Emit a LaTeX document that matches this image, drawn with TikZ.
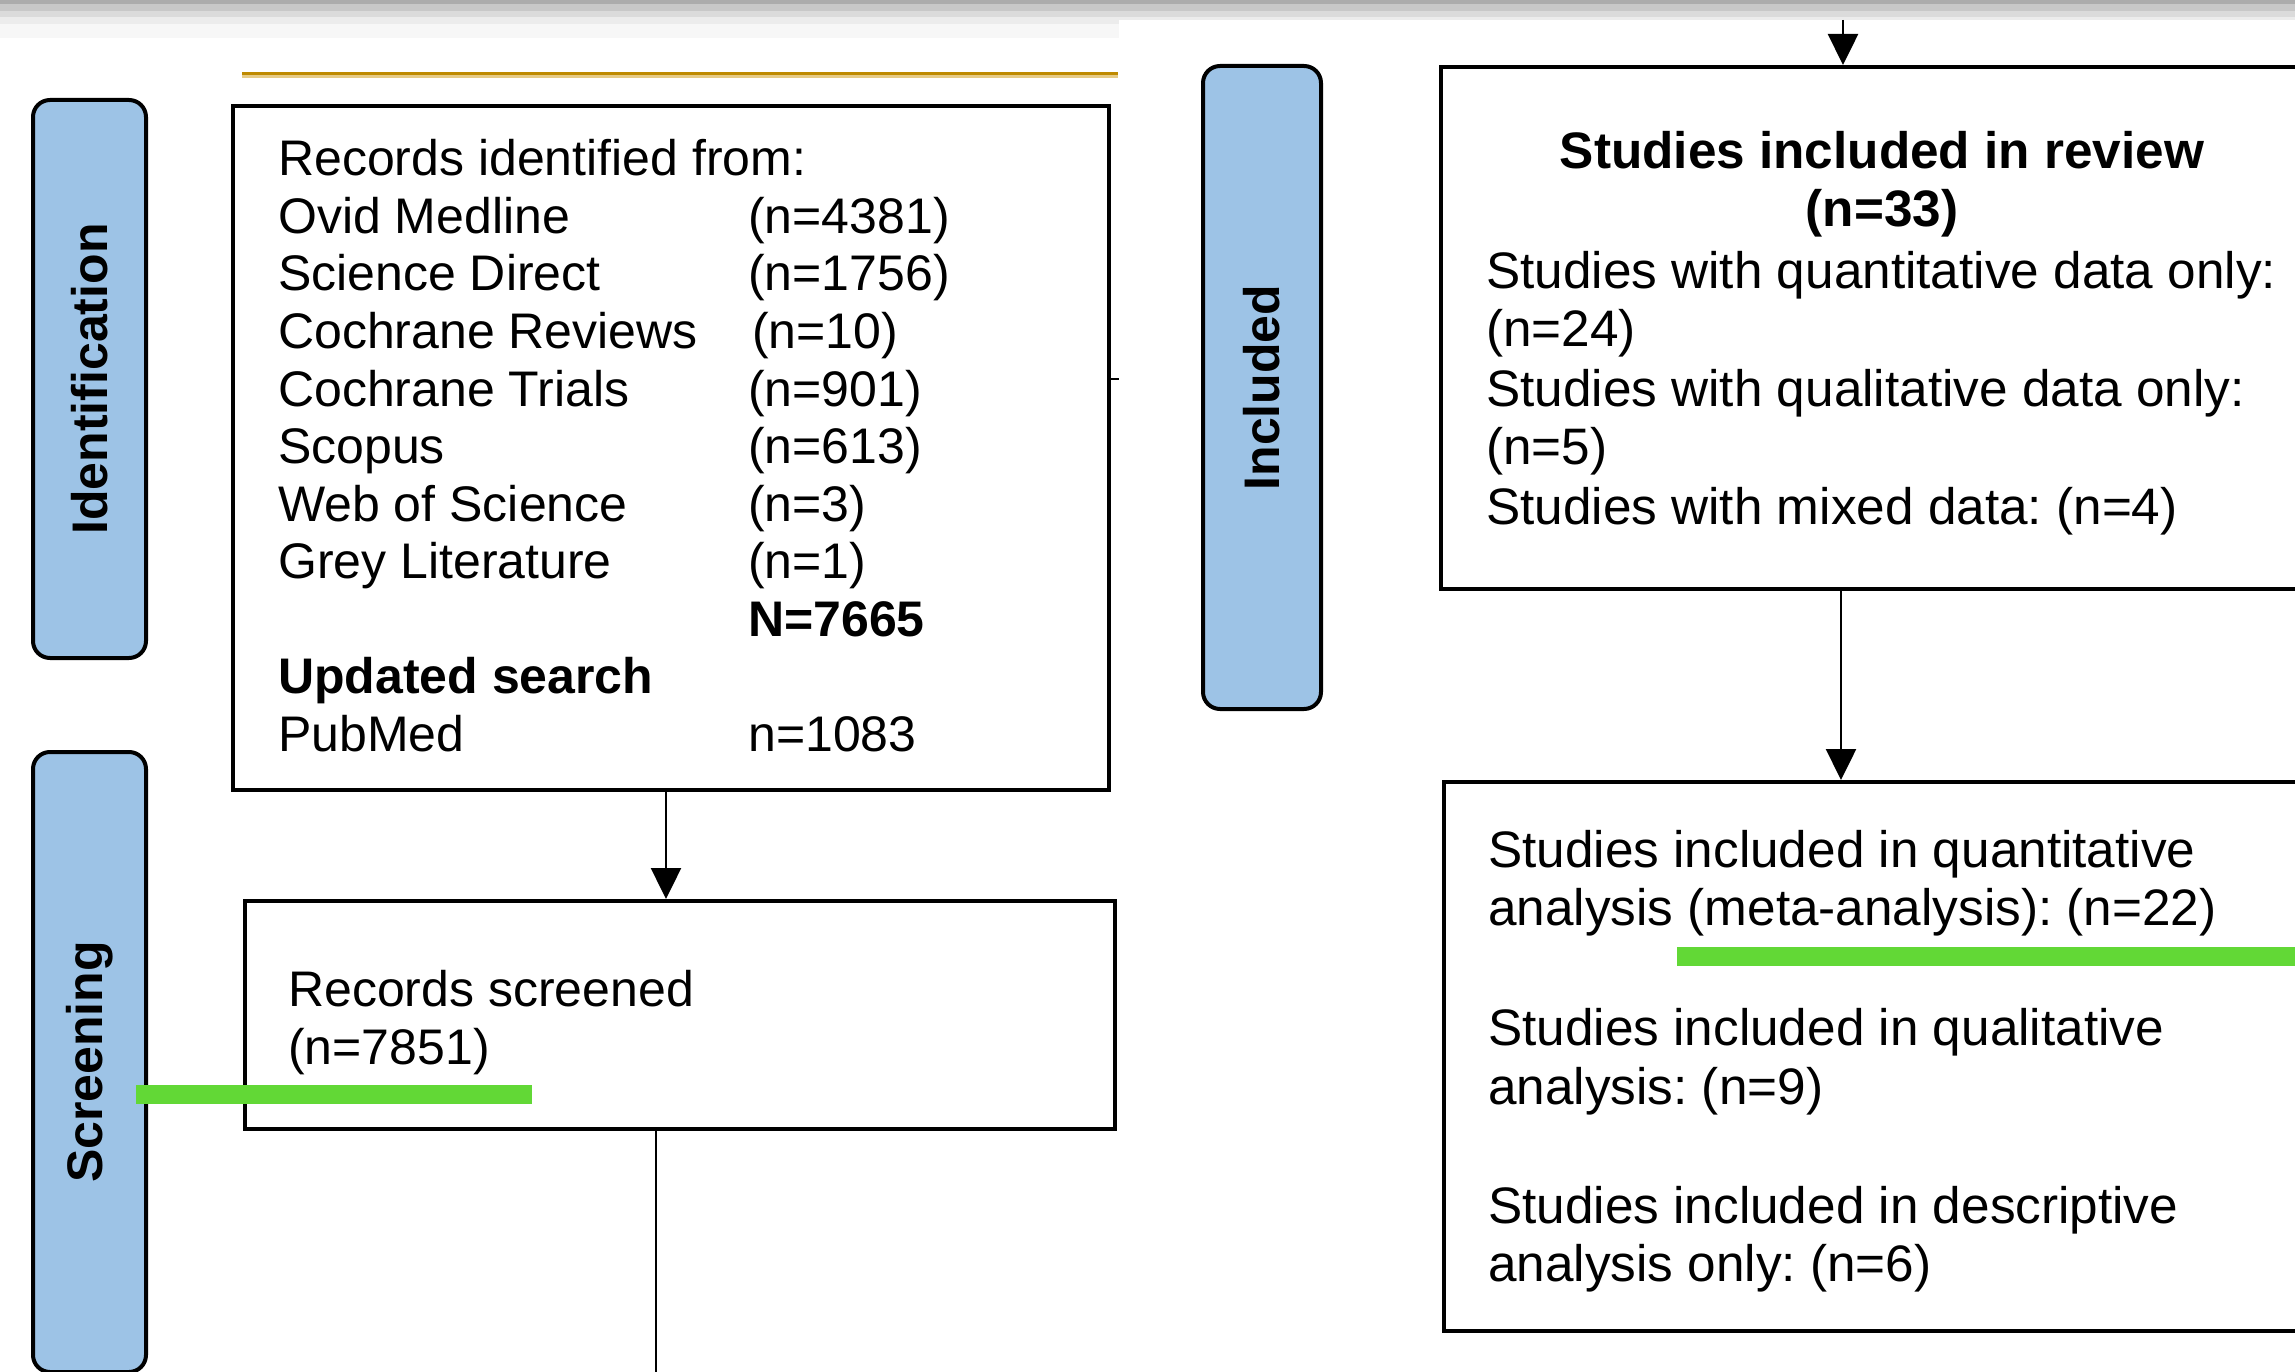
\documentclass[tikz,border=0pt]{standalone}
\usepackage{fontspec}
\setmainfont{Liberation Sans}
\frenchspacing
\usetikzlibrary{arrows.meta, positioning}

\definecolor{phaseblue}{HTML}{9DC3E6}
\definecolor{markgreen}{HTML}{62D836}
\definecolor{rulegold}{HTML}{BF8A00}
\definecolor{ruleshade}{HTML}{E6CB86}

\tikzset{
  phase/.style={draw, line width=4pt, fill=phaseblue, rounded corners=17pt,
    minimum width=113pt, anchor=north west, inner sep=0pt},
  phaselabel/.style={rotate=90, inner sep=0pt, font=\fontsize{50}{58}\selectfont\bfseries},
  box/.style={draw, line width=4pt, anchor=north west, inner sep=0pt},
  ltxt/.style={anchor=west, inner sep=0pt, text height=36pt, text depth=0pt,
    font=\fontsize{50}{57.5}\selectfont},
  rtxt/.style={ltxt, font=\fontsize{51.3}{59.3}\selectfont},
  link/.style={line width=2.5pt},
  arr/.style={link, -{Triangle[width=30pt,length=31pt]}},
  hilite/.style={markgreen, line width=19pt},
}

\begin{document}
\begin{tikzpicture}[x=1pt, y=-1pt]
  \useasboundingbox (0,0) rectangle (2295,1372);
  \clip (0,0) rectangle (2295,1372);

  % grey strip on top
  \fill[gray!65] (0,0) rectangle (2295,4);
  \fill[gray!43] (0,4) rectangle (2295,11);
  \fill[gray!28] (0,11) rectangle (2295,17);
  \fill[gray!15] (0,17) rectangle (2295,20);
  \fill[gray!15] (0,20) rectangle (1119,24);
  \fill[gray!6] (0,24) rectangle (1119,38);
  \fill[ruleshade] (242,75) rectangle (1118,78);
  \fill[rulegold] (242,72) rectangle (1118,75);

  % phases
  \node[phase, minimum height=558pt] (ident) at (31,98) {};
  \node[phase, minimum height=620pt] (screen) at (31,750) {};
  \node[phase, minimum width=118pt, minimum height=643pt] (incl) at (1201,64) {};
  \node[phaselabel] (identlbl) at (ident.center) {Identification};
  \node[phaselabel] (screenlbl) at (screen.center) {Screening};
  \node[phaselabel] (incllbl) at (incl.center) {Included};

  % boxes
  \node[box, minimum width=876pt, minimum height=684pt] (records) at (231,104) {};
  \node[box, minimum width=870pt, minimum height=228pt] (screened) at (243,899) {};
  \node[box, minimum width=900pt, minimum height=522pt] (studies) at (1439,65) {};
  \node[box, minimum width=900pt, minimum height=549pt] (analysis) at (1442,780) {};

  % identification text
  \node[ltxt] (recttl) at (278,158) {Records identified from:};
  \foreach \src/\cnt [count=\i] in {Ovid Medline/(n=4381), Science Direct/(n=1756),
      Cochrane Reviews/\hspace{4pt}(n=10), Cochrane Trials/(n=901), Scopus/(n=613),
      Web of Science/(n=3), Grey Literature/(n=1)}
  {
    \node[ltxt] (src\i) at (278,158+57.5*\i) {\src};
    \node[ltxt] (cnt\i) at (748,158+57.5*\i) {\cnt};
  }
  \node[ltxt, font=\fontsize{50}{57.5}\selectfont\bfseries] (total) at (748,618) {N=7665};
  \node[ltxt, font=\fontsize{50}{57.5}\selectfont\bfseries] (upd) at (278,675.5) {Updated search};
  \node[ltxt] (pubmed) at (278,733) {PubMed};
  \node[ltxt] (pubcnt) at (748,733) {n=1083};

  \node[ltxt] (scr1) at (288,988) {Records screened};
  \node[ltxt] (scr2) at (288,1046) {(n=7851)};

  % included text
  \node[rtxt, anchor=center, font=\fontsize{51.3}{59.3}\selectfont\bfseries] (rev1) at (1882,151) {Studies included in review};
  \node[rtxt, anchor=center, font=\fontsize{51.3}{59.3}\selectfont\bfseries] (rev2) at (1882,209) {(n=33)};
  \node[rtxt] (st1) at (1486,271) {Studies with quantitative data only:};
  \node[rtxt] (st2) at (1486,329) {(n=24)};
  \node[rtxt] (st3) at (1486,388) {Studies with qualitative data only:};
  \node[rtxt] (st4) at (1486,446) {(n=5)};
  \node[rtxt] (st5) at (1486,506) {Studies with mixed data: (n=4)};

  \node[rtxt] (an1) at (1488,849) {Studies included in quantitative};
  \node[rtxt] (an2) at (1488,907) {analysis (meta-analysis): (n=22)};
  \node[rtxt] (an3) at (1488,1027) {Studies included in qualitative};
  \node[rtxt] (an4) at (1488,1086) {analysis: (n=9)};
  \node[rtxt] (an5) at (1488,1205) {Studies included in descriptive};
  \node[rtxt] (an6) at (1488,1263) {analysis only: (n=6)};

  % connectors
  \coordinate (topin) at (1843,20);
  \coordinate (botout) at (656,1372);
  \draw[arr] (records.south -| 666,0) -- (screened.north -| 666,0);
  \draw[link] (screened.south -| botout) -- (botout);
  \draw[arr] (topin) -- (studies.north -| topin);
  \draw[arr] (studies.south -| 1841,0) -- (analysis.north -| 1841,0);
  \draw[line width=2pt] (records.east |- 0,379) -- ++(8,0);

  % green marks
  \draw[hilite] (136,1094) -- (532,1094);
  \draw[hilite] (1677,956) -- (2300,956);
\end{tikzpicture}
\end{document}
